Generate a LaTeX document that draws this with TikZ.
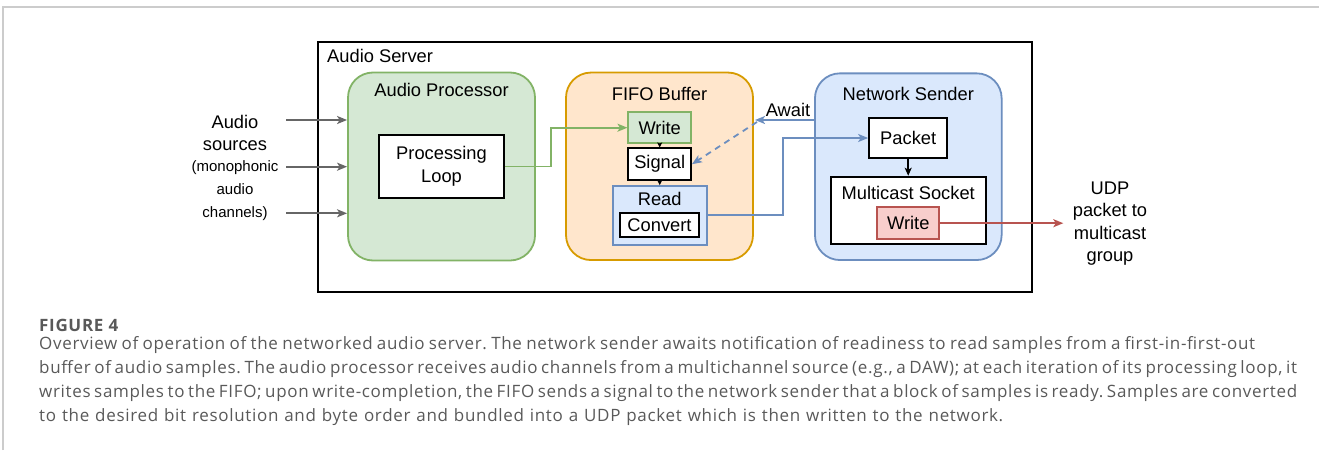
\documentclass[tikz,border=0pt]{standalone}
\usepackage{fontspec}
\setmainfont{Liberation Sans}
\newfontfamily\capfont[LetterSpace=4]{Open Sans}
\usetikzlibrary{arrows.meta,positioning,calc}
\definecolor{gfill}{HTML}{D5E8D4}\definecolor{gline}{HTML}{82B366}
\definecolor{ofill}{HTML}{FFE6CC}\definecolor{oline}{HTML}{D79B00}
\definecolor{bfill}{HTML}{DAE8FC}\definecolor{bline}{HTML}{6C8EBF}
\definecolor{rfill}{HTML}{F8CECC}\definecolor{rline}{HTML}{B85450}
\definecolor{arrgray}{HTML}{666666}
\definecolor{capgray}{HTML}{595959}
\definecolor{framegray}{HTML}{CCCCCC}
\tikzset{
  lbl/.style={font=\fontsize{18.3}{22.5}\selectfont, inner sep=0pt, align=center},
  smalllbl/.style={font=\fontsize{15}{23}\selectfont, inner sep=0pt, align=center},
  group/.style={draw, line width=1.8pt, rounded corners=25pt, inner sep=0pt},
  box/.style={draw, line width=1.8pt, inner sep=0pt, font=\fontsize{18.3}{22.5}\selectfont, align=center},
  tip/.style={-{Stealth[length=10pt,width=8pt,inset=2.5pt]}},
  smalltip/.style={-{Stealth[length=5pt,width=5pt,inset=1pt]}},
  conn/.style={line width=1.8pt, tip},
  capline/.style={anchor=base west, inner sep=0pt, text=capgray, font=\capfont\frenchspacing\fontsize{17}{24}\selectfont}
}
\begin{document}
\begin{tikzpicture}[x=1pt,y=-1pt]
\useasboundingbox (0,0) rectangle (1319,450);
% page frame
\draw[framegray, line width=1.2pt] (3,450) -- (3,7) -- (1319,7);

% outer server box
\node[draw=black, line width=1.8pt, minimum width=714pt, minimum height=250pt, inner sep=0pt] (server) at (675,167) {};
\node[lbl, anchor=west] (servlbl) at (327,56) {Audio Server};

% groups
\node[group, draw=gline, fill=gfill, minimum width=187pt, minimum height=188pt] (ap) at (441.5,166.5) {};
\node[group, draw=oline, fill=ofill, minimum width=187pt, minimum height=187.5pt] (fifo) at (659.5,166.3) {};
\node[group, draw=bline, fill=bfill, minimum width=186.7pt, minimum height=186.7pt] (ns) at (908.3,166.7) {};

\node[lbl] (aplbl) at (441.5,90) {Audio Processor};
\node[lbl] (fifolbl) at (659.5,94) {FIFO Buffer};
\node[lbl] (nslbl) at (908.3,94.3) {Network Sender};

% audio processor
\node[box, fill=white, minimum width=125pt, minimum height=63pt] (loop) at (441.5,166.5) {Processing\\Loop};

% fifo internals
\node[box, draw=gline, fill=gfill, minimum width=62.7pt, minimum height=30.7pt] (fwrite) at (659.7,127.7) {Write};
\node[box, fill=white, minimum width=62.7pt, minimum height=31.7pt] (signal) at (659.7,164.2) {Signal};
\node[box, draw=bline, fill=bfill, minimum width=94pt, minimum height=59pt] (read) at (659.7,215.5) {};
\node[lbl] (readlbl) at (659.7,199.3) {Read};
\node[box, fill=white, minimum width=79pt, minimum height=23.4pt] (convert) at (659.5,225) {Convert};

% network sender internals
\node[box, fill=white, minimum width=78.3pt, minimum height=39.4pt] (packet) at (908.2,138) {Packet};
\node[box, fill=white, minimum width=155pt, minimum height=67.3pt] (msock) at (908.2,210.3) {};
\node[lbl] (msocklbl) at (908.2,192.7) {Multicast Socket};
\node[box, draw=rline, fill=rfill, minimum width=62pt, minimum height=31.7pt] (nwrite) at (908.3,223.2) {Write};

% left labels
\node[lbl] (src1) at (235,133) {Audio\\sources};
\node[smalllbl] (src2) at (235,190.5) {(monophonic\\audio\\channels)};

% input arrows
\coordinate (in1) at (286,120);
\coordinate (in2) at (286,166.7);
\coordinate (in3) at (286,213.3);
\foreach \c in {in1,in2,in3}
  \draw[conn, arrgray] (\c) -- (\c -| ap.west);

% green connector
\draw[conn, gline] (loop.east) -- ++(46,0) |- (fwrite.west);

% internal small arrows
\draw[line width=1pt, smalltip] (fwrite.south) -- (signal.north);
\draw[line width=1pt, smalltip] (signal.south) -- (read.north);
\draw[line width=1.6pt, -{Stealth[length=8pt,width=7pt,inset=2pt]}] (packet.south) -- (msock.north);

% await
\coordinate (aw) at (755,120);
\draw[conn, bline] (ns.west |- aw) -- (aw);
\node[lbl, anchor=south] (awlbl) at (788,117) {Await};
\draw[conn, bline, dashed, dash pattern=on 6pt off 5pt] (757,122) -- (signal.east);

% blue connector read -> packet
\coordinate (bend) at (783.3,215);
\draw[conn, bline] (read.east |- bend) -- (bend) |- (packet.west);

% red connector
\coordinate (udp) at (1063.3,223.2);
\draw[conn, rline] (nwrite.east) -- (udp);
\node[lbl] (udplbl) at (1110,223.5) {UDP\\packet to\\multicast\\group};

% caption
\node[anchor=base west, inner sep=0pt, text=capgray, font=\capfont\bfseries\fontsize{17}{20}\selectfont] (figlbl) at (39,331) {FIGURE 4};
\node[capline] (c1) at (39,349) {\makebox[1216pt][s]{Overview of operation of the networked audio server. The network sender awaits notification of readiness to read samples from a first-in-first-out}};
\node[capline] (c2) at (39,373) {\makebox[1258pt][s]{buffer of audio samples. The audio processor receives audio channels from a multichannel source (e.g., a DAW); at each iteration of its processing loop, it}};
\node[capline] (c3) at (39,397) {\makebox[1258pt][s]{writes samples to the FIFO; upon write-completion, the FIFO sends a signal to the network sender that a block of samples is ready. Samples are converted}};
\node[capline] (c4) at (39,421) {\makebox[964pt][s]{to the desired bit resolution and byte order and bundled into a UDP packet which is then written to the network.}};
\end{tikzpicture}
\end{document}
